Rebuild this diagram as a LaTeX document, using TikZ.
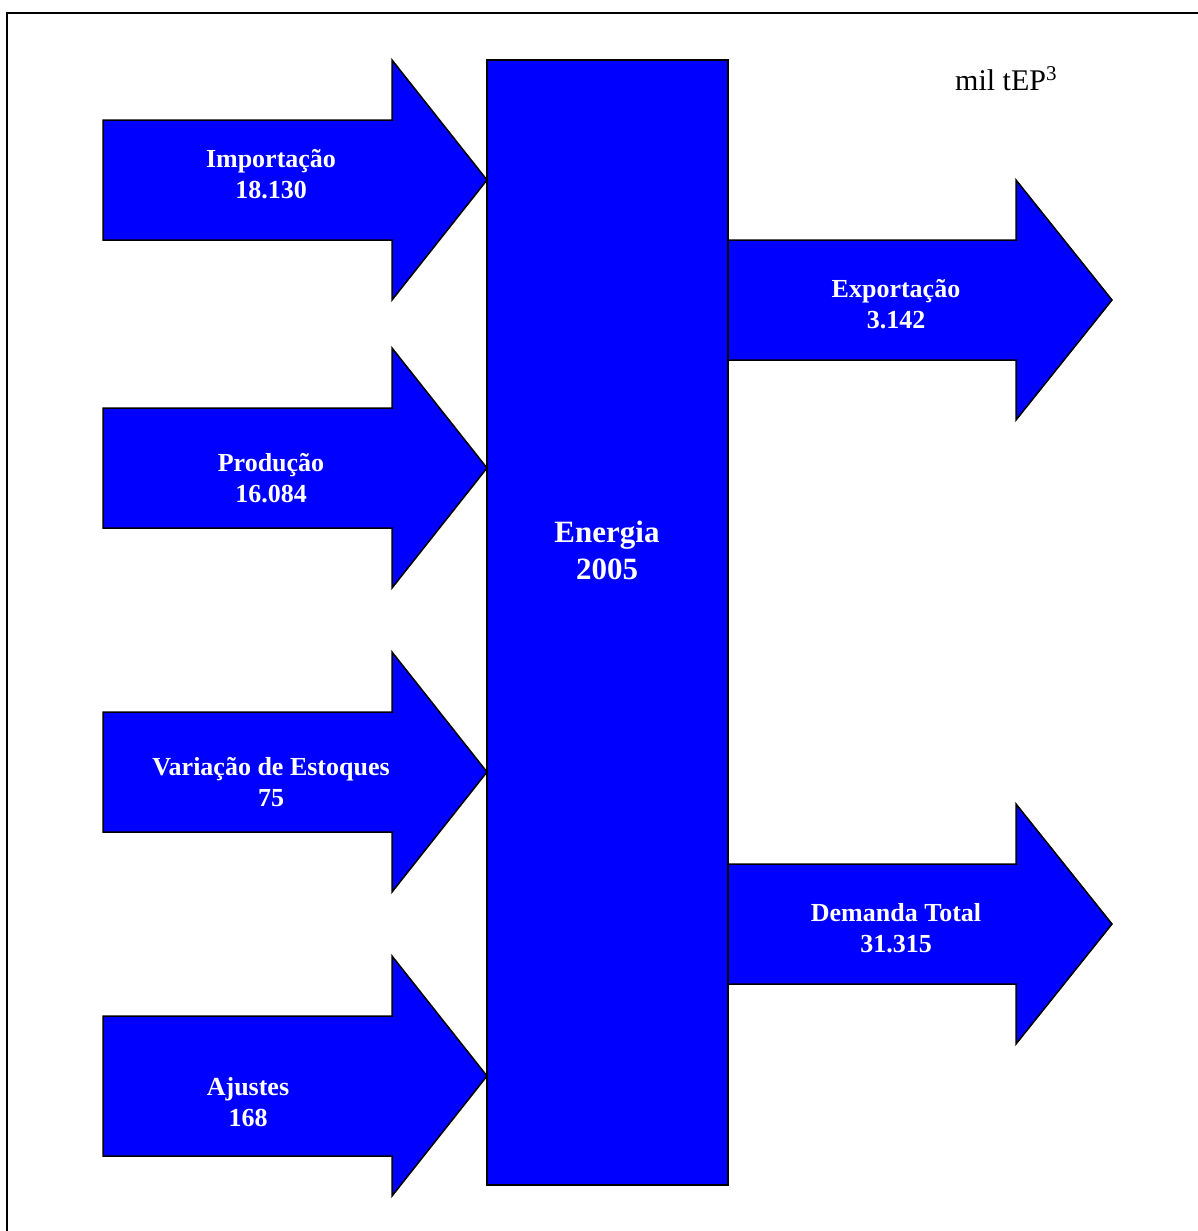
\documentclass[tikz,border=0pt]{standalone}
\usepackage{fontspec}
\setmainfont{Liberation Serif}
\usetikzlibrary{positioning}

\begin{document}
\begin{tikzpicture}[x = 1pt, y = -1pt,
  seta/.style = {fill = blue, draw = black, line width = 1.5pt, line join = miter},
  rotulo/.style = {align = center, text = white, font = \bfseries\fontsize{26}{31}\selectfont}]
\useasboundingbox (0,0) rectangle (1197,1231);
\draw[line width = 2pt] (7,1245) -- (7,13) -- (1215,13);
% entradas
\draw[seta] (103,120) -- (392,120) -- (392,60) -- (487,180) -- (392,300) -- (392,240) -- (103,240) -- cycle;
\draw[seta] (103,408) -- (392,408) -- (392,348) -- (487,468) -- (392,588) -- (392,528) -- (103,528) -- cycle;
\draw[seta] (103,712) -- (392,712) -- (392,652) -- (487,772) -- (392,892) -- (392,832) -- (103,832) -- cycle;
\draw[seta] (103,1016) -- (392,1016) -- (392,956) -- (487,1076) -- (392,1196) -- (392,1156) -- (103,1156) -- cycle;
% saidas
\draw[seta] (728,240) -- (1016,240) -- (1016,180) -- (1112,300) -- (1016,420) -- (1016,360) -- (728,360) -- cycle;
\draw[seta] (728,864) -- (1016,864) -- (1016,804) -- (1112,924) -- (1016,1044) -- (1016,984) -- (728,984) -- cycle;
\draw[seta] (487,60) rectangle (728,1185);
\node[rotulo] (importacao) at (271,174) {Importação\\18.130};
\node[rotulo] (producao) at (271,478) {Produção\\16.084};
\node[rotulo] (variacao) at (271,782) {Variação de Estoques\\75};
\node[rotulo] (ajustes) at (248,1102) {Ajustes\\168};
\node[rotulo] (exportacao) at (896,304) {Exportação\\3.142};
\node[rotulo] (demanda) at (896,928) {Demanda Total\\31.315};
\node[rotulo, font = \bfseries\fontsize{31}{37}\selectfont] (energia) at (607,550) {Energia\\2005};
\node[anchor = base west, inner sep = 0pt, font = \fontsize{30}{36}\selectfont] (unidade) at (955,90) {mil tEP\textsuperscript{3}};
\end{tikzpicture}
\end{document}
